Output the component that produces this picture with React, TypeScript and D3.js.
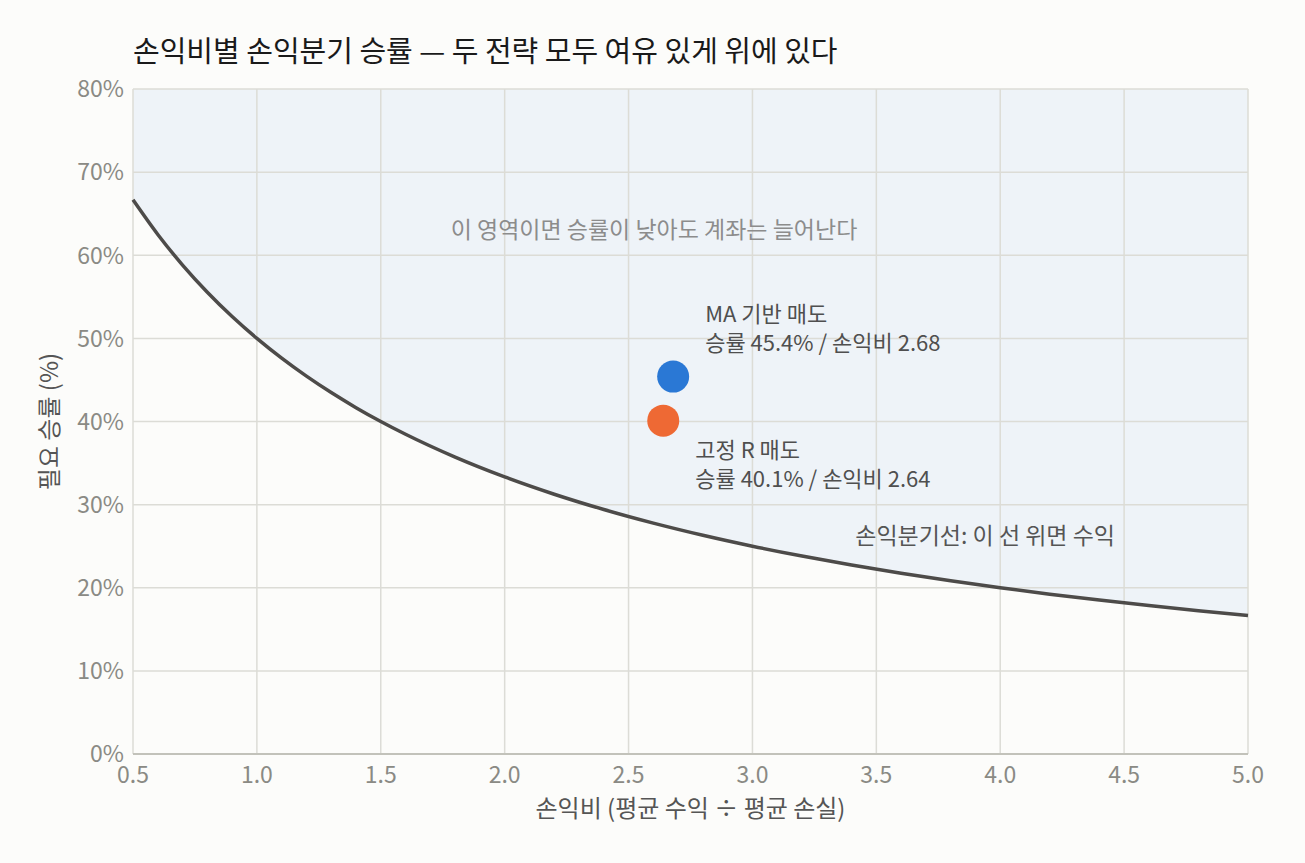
import { useEffect, useRef } from 'react';
import * as d3 from 'd3';

// 손익비 샘플 지점 (손익분기선용)
const ratioSamples = [
  0.5, 0.6, 0.7, 0.8, 0.9, 1.0, 1.1, 1.2, 1.3, 1.4, 1.5, 1.6, 1.8, 2.0, 2.2, 2.4, 2.6, 2.8,
  3.0, 3.2, 3.4, 3.6, 3.8, 4.0, 4.2, 4.4, 4.6, 4.8, 5.0,
];

const strategyNames = ['MA 기반 매도', '고정 R 매도'];
const strategyRatios = [2.68, 2.64];
const strategyWinRates = [0.454, 0.401];
const strategyColors = ['#2A78D5', '#EE6934'];

const xTicks = [0.5, 1.0, 1.5, 2.0, 2.5, 3.0, 3.5, 4.0, 4.5, 5.0];
const yTicks = [0, 0.1, 0.2, 0.3, 0.4, 0.5, 0.6, 0.7, 0.8];

const App = () => {
  const ref = useRef(null);

  useEffect(() => {
    const width = 1305;
    const height = 863;
    const margin = { top: 89, right: 57, bottom: 109, left: 133 };
    const font = "'Noto Sans CJK KR', 'Noto Sans', sans-serif";

    document.body.style.margin = '0';
    document.body.style.background = '#FCFCFA';

    const svg = d3.select(ref.current)
      .attr('width', width)
      .attr('height', height)
      .style('display', 'block')
      .style('background', '#FCFCFA')
      .style('font-family', font);

    svg.selectAll('*').remove();

    const x = d3.scaleLinear().domain([0.5, 5.0]).range([margin.left, width - margin.right]);
    const y = d3.scaleLinear().domain([0, 0.8]).range([height - margin.bottom, margin.top]);

    const curve = ratioSamples.map((r) => ({ r, w: 1 / (1 + r) }));

    // 수익 영역
    const area = d3.area()
      .x((d) => x(d.r))
      .y0(y(0.8))
      .y1((d) => y(d.w))
      .curve(d3.curveMonotoneX);

    svg.append('path')
      .attr('d', area(curve))
      .attr('fill', '#EEF3F8');

    // grid
    svg.append('g')
      .selectAll('line')
      .data(yTicks)
      .join('line')
      .attr('x1', x(0.5))
      .attr('x2', x(5.0))
      .attr('y1', (d) => y(d))
      .attr('y2', (d) => y(d))
      .attr('stroke', '#DCDCD6')
      .attr('stroke-width', 1.5);

    svg.append('g')
      .selectAll('line')
      .data(xTicks)
      .join('line')
      .attr('x1', (d) => x(d))
      .attr('x2', (d) => x(d))
      .attr('y1', y(0))
      .attr('y2', y(0.8))
      .attr('stroke', '#DCDCD6')
      .attr('stroke-width', 1.5);

    // x axis line
    svg.append('line')
      .attr('x1', x(0.5))
      .attr('x2', x(5.0))
      .attr('y1', y(0))
      .attr('y2', y(0))
      .attr('stroke', '#C2C2BA')
      .attr('stroke-width', 2);

    // tick labels
    svg.append('g')
      .selectAll('text')
      .data(yTicks)
      .join('text')
      .attr('x', margin.left - 9)
      .attr('y', (d) => y(d))
      .attr('dy', '0.36em')
      .attr('text-anchor', 'end')
      .attr('font-size', 23)
      .attr('fill', '#8A8A84')
      .text((d) => `${Math.round(d * 100)}%`);

    svg.append('g')
      .selectAll('text')
      .data(xTicks)
      .join('text')
      .attr('x', (d) => x(d))
      .attr('y', y(0) + 29)
      .attr('text-anchor', 'middle')
      .attr('font-size', 23)
      .attr('fill', '#8A8A84')
      .text((d) => d.toFixed(1));

    // 손익분기선
    const line = d3.line()
      .x((d) => x(d.r))
      .y((d) => y(d.w))
      .curve(d3.curveMonotoneX);

    svg.append('path')
      .attr('d', line(curve))
      .attr('fill', 'none')
      .attr('stroke', '#4D4B49')
      .attr('stroke-width', 3.5);

    // points
    svg.append('g')
      .selectAll('circle')
      .data(strategyNames)
      .join('circle')
      .attr('cx', (d, i) => x(strategyRatios[i]))
      .attr('cy', (d, i) => y(strategyWinRates[i]))
      .attr('r', 16)
      .attr('fill', (d, i) => strategyColors[i]);

    // point labels (두 줄)
    const labelOffsets = [
      { dx: 32, dy: -62 },
      { dx: 32, dy: 30 },
    ];

    strategyNames.forEach((name, i) => {
      const cx = x(strategyRatios[i]);
      const cy = y(strategyWinRates[i]);
      const lx = cx + labelOffsets[i].dx;
      const ly = cy + labelOffsets[i].dy + 7;
      svg.append('text')
        .attr('x', lx)
        .attr('y', ly)
        .attr('font-size', 22)
        .attr('fill', '#4F4F4F')
        .text(name);
      svg.append('text')
        .attr('x', lx)
        .attr('y', ly + 29)
        .attr('font-size', 22)
        .attr('fill', '#4F4F4F')
        .text(`승률 ${(strategyWinRates[i] * 100).toFixed(1)}% / 손익비 ${strategyRatios[i].toFixed(2)}`);
    });

    // annotations
    svg.append('text')
      .attr('x', 654)
      .attr('y', 238)
      .attr('text-anchor', 'middle')
      .attr('font-size', 23)
      .attr('fill', '#8C8C8C')
      .text('이 영역이면 승률이 낮아도 계좌는 늘어난다');

    svg.append('text')
      .attr('x', 1115)
      .attr('y', 544)
      .attr('text-anchor', 'end')
      .attr('font-size', 23)
      .attr('fill', '#555555')
      .text('손익분기선: 이 선 위면 수익');

    // title
    svg.append('text')
      .attr('x', 133)
      .attr('y', 62)
      .attr('font-size', 29)
      .attr('fill', '#1A1A1A')
      .text('손익비별 손익분기 승률 — 두 전략 모두 여유 있게 위에 있다');

    // axis titles
    svg.append('text')
      .attr('x', x(2.75))
      .attr('y', 817)
      .attr('text-anchor', 'middle')
      .attr('font-size', 24)
      .attr('fill', '#555555')
      .text('손익비 (평균 수익 ÷ 평균 손실)');

    svg.append('text')
      .attr('transform', `translate(58,${y(0.4)}) rotate(-90)`)
      .attr('text-anchor', 'middle')
      .attr('font-size', 24)
      .attr('fill', '#555555')
      .text('필요 승률 (%)');
  }, []);

  return (
    <div>
      <svg ref={ref}></svg>
    </div>
  );
};

export default App;
